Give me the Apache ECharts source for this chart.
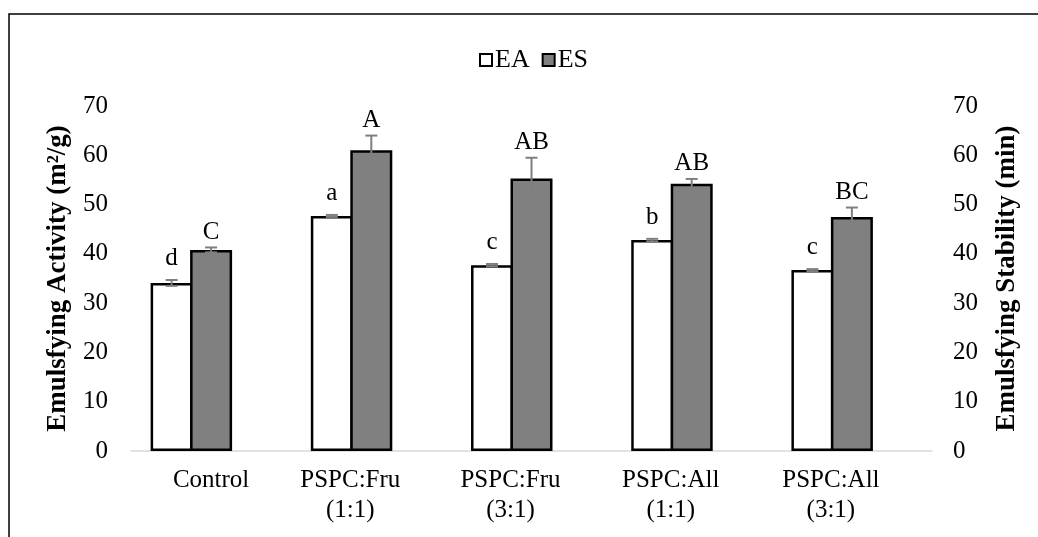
<!DOCTYPE html>
<html>
<head>
<meta charset="utf-8">
<style>
  html, body { margin: 0; padding: 0; background: #fff; }
  #chart { width: 1038px; height: 537px; }
</style>
<script src="https://cdn.jsdelivr.net/npm/echarts@6/dist/echarts.min.js"></script>
</head>
<body>
<div id="chart"></div>
<script>
// Treatments on the category axis
const categories = ['Control', 'PSPC:Fru\n(1:1)', 'PSPC:Fru\n(3:1)', 'PSPC:All\n(1:1)', 'PSPC:All\n(3:1)'];

// Emulsifying activity (m²/g) and emulsion stability (min)
const eaValues = [34.1, 47.7, 37.7, 42.8, 36.7];
const esValues = [40.8, 61.0, 55.3, 54.2, 47.5];

// Standard deviations shown as error bars
const eaErrors = [0.6, 0.2, 0.25, 0.25, 0.2];
const esErrors = [0.5, 3.0, 4.2, 1.0, 1.9];

// Significance letters above each bar
const eaLetters = ['d', 'a', 'c', 'b', 'c'];
const esLetters = ['C', 'A', 'AB', 'AB', 'BC'];

// Shared axis ticks
const axisMin = 0, axisMax = 70, axisStep = 10;

const SERIF = '"Liberation Serif", "Times New Roman", serif';
const CAT_GAP = 0.245;   // barCategoryGap as a fraction
const BAR_GAP = -0.06;   // neighbouring bars share one outline
const SLOTS = 3;         // bar slots per category (EA, ES and an empty slot)

// Error bar with a cap at both ends plus the letter over it
function errorRenderer(values, errors, letters, slot, letterLift) {
  return function (params, api) {
    const i = params.dataIndex;
    const band = api.size([1, 0])[0];
    const groupW = band * (1 - CAT_GAP);
    const barW = groupW / (SLOTS + (SLOTS - 1) * BAR_GAP);
    const left = api.coord([i, 0])[0] - groupW / 2;
    const x = left + barW / 2 + slot * barW * (1 + BAR_GAP);
    const yTop = api.coord([i, values[i] + errors[i]])[1];
    const yBot = api.coord([i, values[i] - errors[i]])[1];
    const cap = 6;
    const stroke = { stroke: '#7f7f7f', lineWidth: 2 };
    return {
      type: 'group',
      children: [
        { type: 'line', shape: { x1: x, y1: yTop, x2: x, y2: yBot }, style: stroke },
        { type: 'line', shape: { x1: x - cap, y1: yTop, x2: x + cap, y2: yTop }, style: stroke },
        { type: 'line', shape: { x1: x - cap, y1: yBot, x2: x + cap, y2: yBot }, style: stroke },
        {
          type: 'text',
          style: {
            text: letters[i], x: x, y: yTop - letterLift,
            align: 'center', verticalAlign: 'bottom',
            fontFamily: SERIF, fontSize: 25, fill: '#000'
          }
        }
      ]
    };
  };
}

const chart = echarts.init(document.getElementById('chart'), null, { renderer: 'canvas' });

const valueAxis = (name, position, nameGap, margin) => ({
  type: 'value',
  position: position,
  min: axisMin, max: axisMax, interval: axisStep,
  name: name,
  nameLocation: 'middle',
  nameGap: nameGap,
  nameRotate: 90,
  nameTextStyle: { fontFamily: SERIF, fontSize: 27, fontWeight: 'bold', color: '#000' },
  axisLine: { show: false },
  axisTick: { show: false },
  splitLine: { show: false },
  axisLabel: { fontFamily: SERIF, fontSize: 25, color: '#000', margin: margin }
});

const barCommon = {
  type: 'bar',
  barGap: (BAR_GAP * 100) + '%',
  barCategoryGap: (CAT_GAP * 100) + '%'
};

chart.setOption({
  animation: false,
  backgroundColor: '#fff',
  graphic: [{
    type: 'rect',
    shape: { x: 9, y: 14, width: 1100, height: 600 },
    style: { fill: 'none', stroke: '#000', lineWidth: 1.5 },
    silent: true
  }],
  legend: {
    data: ['EA', 'ES'],
    left: 474, top: 42,
    icon: 'rect',
    itemWidth: 12, itemHeight: 12,
    itemGap: 12,
    textStyle: { fontFamily: SERIF, fontSize: 26, color: '#000', padding: [0, 0, 0, -2] }
  },
  grid: { left: 131, right: 106, top: 106, bottom: 86, containLabel: false },
  xAxis: {
    type: 'category',
    data: categories,
    axisLine: { show: true, lineStyle: { color: '#d9d9d9', width: 1.5 } },
    axisTick: { show: false },
    axisLabel: {
      fontFamily: SERIF, fontSize: 25, color: '#000', lineHeight: 30, margin: 14, interval: 0,
      // two-line labels sit over their bar pair
      formatter: (v) => v.indexOf('\n') < 0 ? v : v.split('\n').map(s => '{w|' + s + '}').join('\n'),
      rich: { w: { fontFamily: SERIF, fontSize: 25, color: '#000', lineHeight: 30, padding: [0, 42, 0, 0] } }
    }
  },
  yAxis: [
    valueAxis('Emulsfying Activity (m²/g)', 'left', 59, 23),
    valueAxis('Emulsfying Stability (min)', 'right', 62, 21)
  ],
  series: [
    Object.assign({
      name: 'EA', data: eaValues,
      itemStyle: { color: '#ffffff', borderColor: '#000', borderWidth: 2.5 }
    }, barCommon),
    Object.assign({
      name: 'ES', data: esValues,
      itemStyle: { color: '#808080', borderColor: '#000', borderWidth: 2.5 }
    }, barCommon),
    Object.assign({
      // empty third slot in each category group
      name: 'spacer', data: categories.map(() => null)
    }, barCommon),
    {
      type: 'custom', z: 5,
      data: eaValues.map((v, i) => [i, v]),
      renderItem: errorRenderer(eaValues, eaErrors, eaLetters, 0, 9)
    },
    {
      type: 'custom', z: 5,
      data: esValues.map((v, i) => [i, v]),
      renderItem: errorRenderer(esValues, esErrors, esLetters, 1, 3)
    }
  ]
});
</script>
</body>
</html>
